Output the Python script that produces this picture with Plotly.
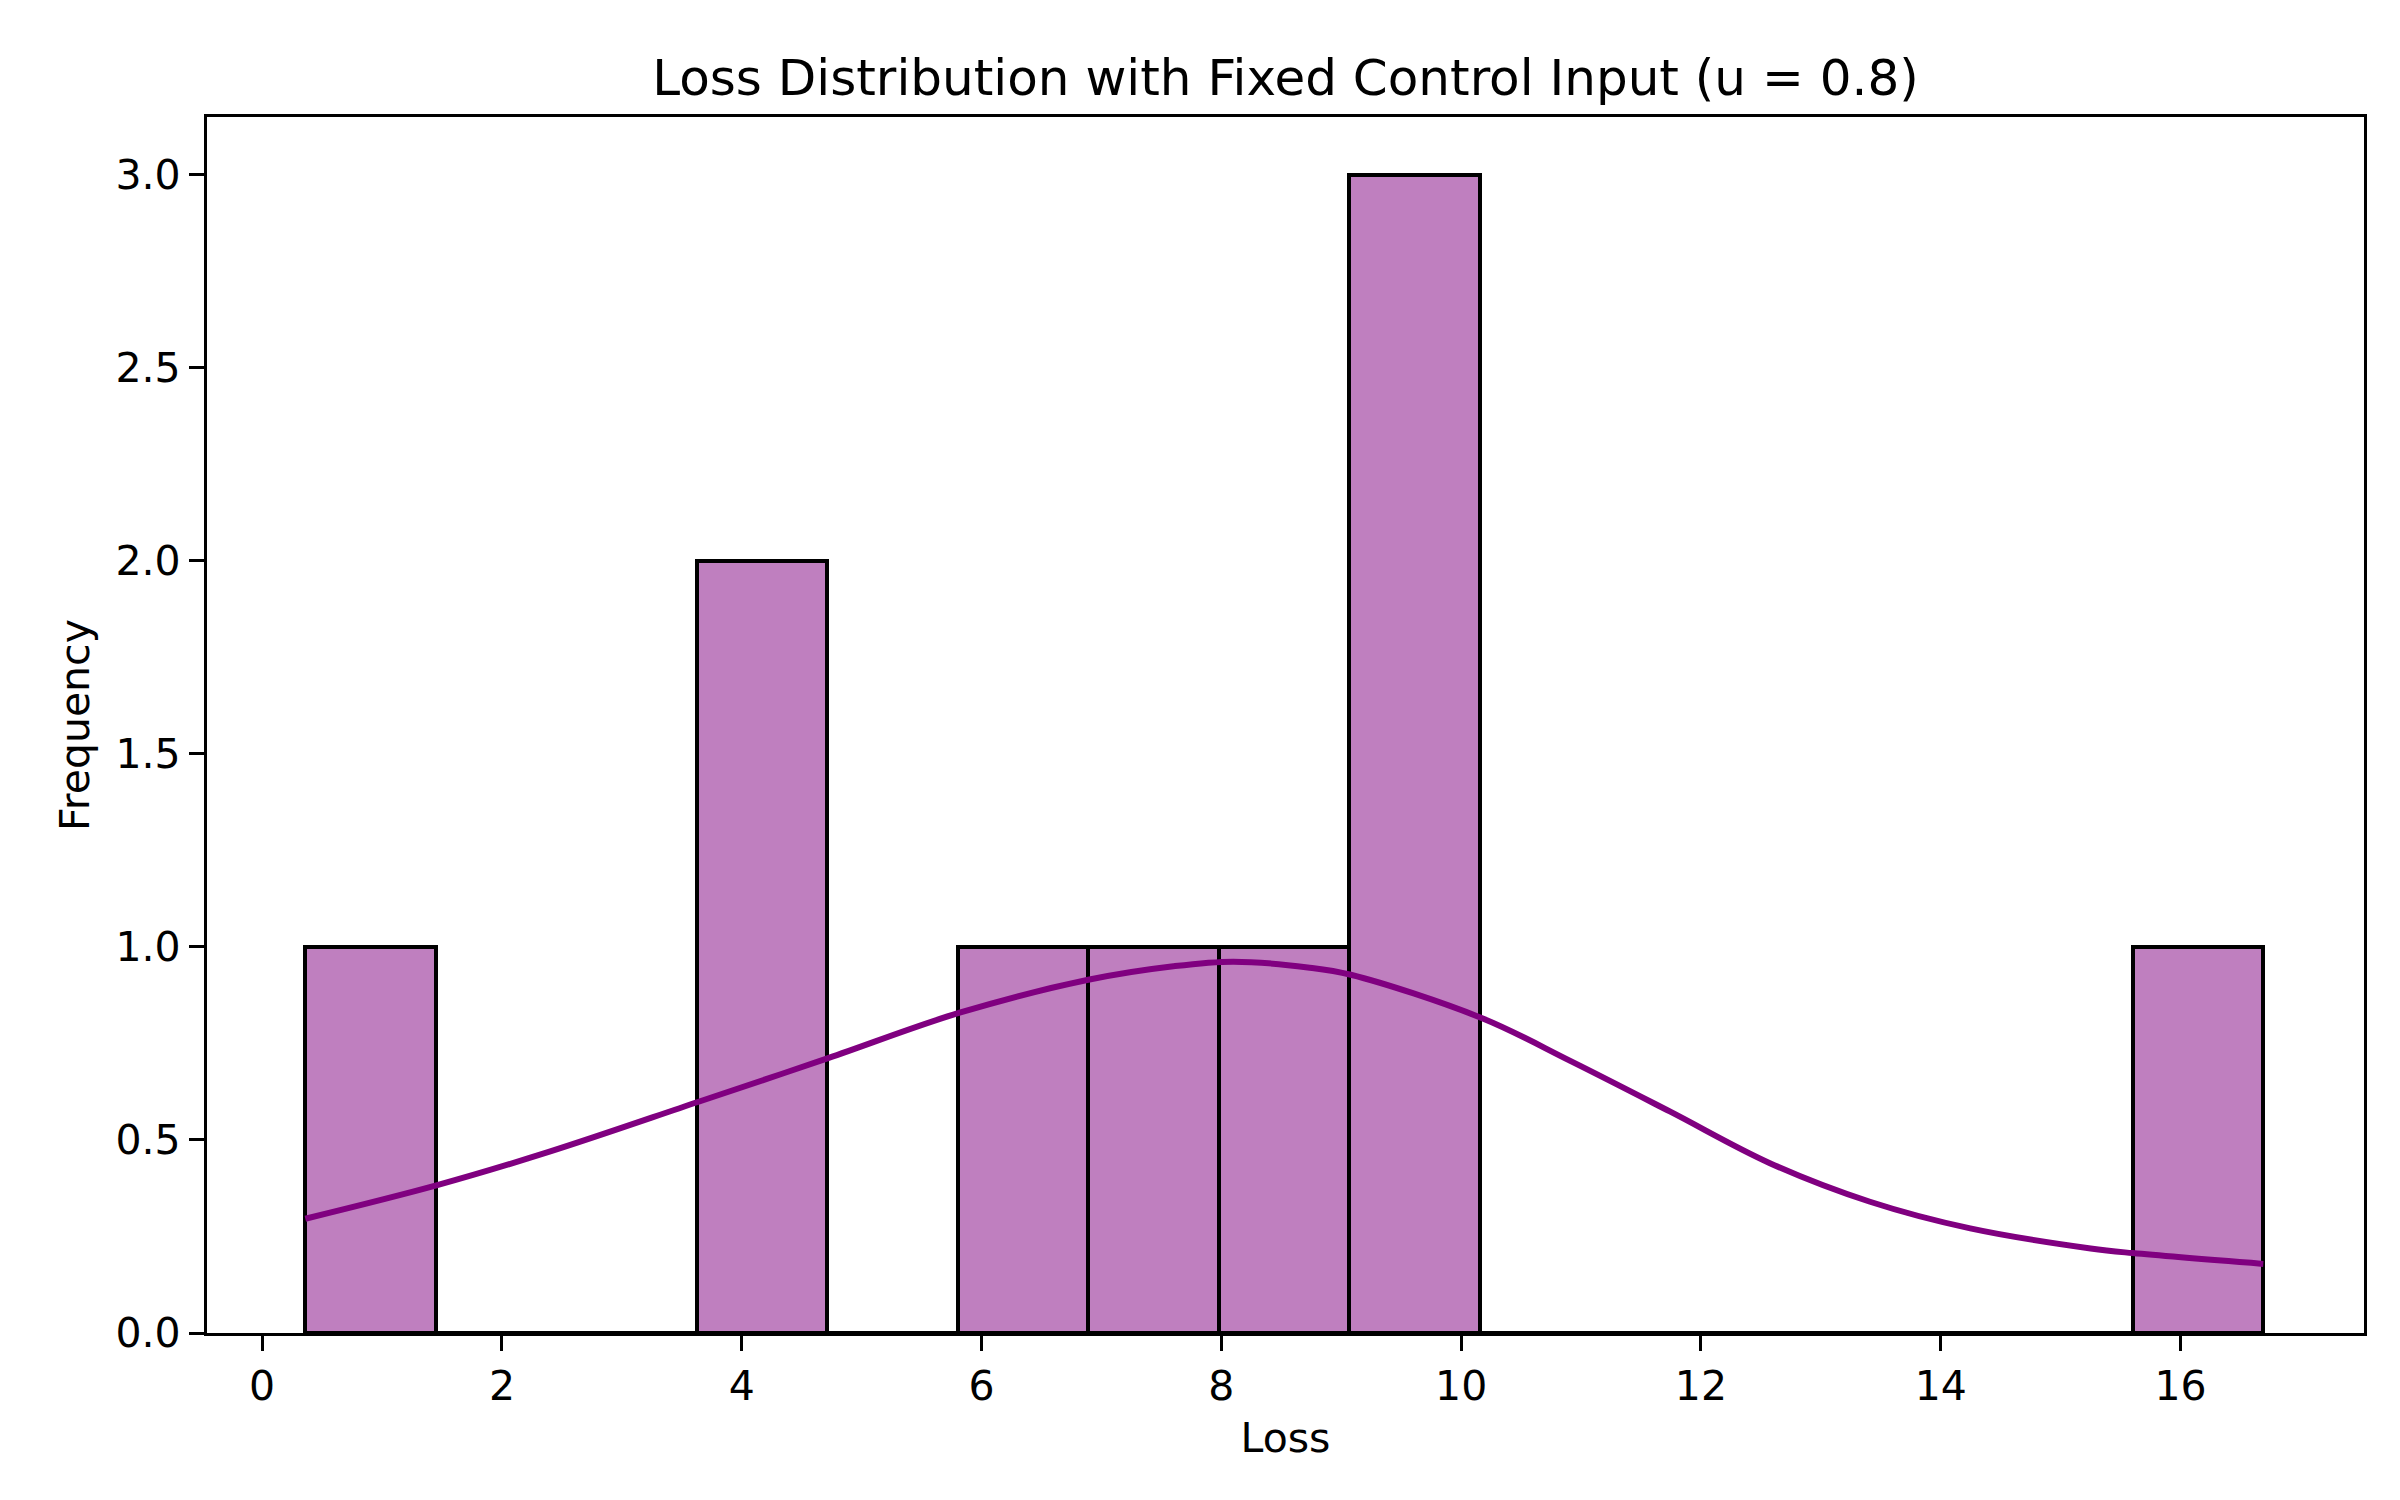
import plotly.graph_objects as go

# histogram bins (15 bins between min and max loss)
bin_start = 0.357
bin_end = 16.69
bin_counts = [1, 0, 0, 2, 0, 1, 1, 1, 3, 0, 0, 0, 0, 0, 1]

# kde curve (scaled to counts)
kde_x = [0.36, 1.46, 2.39, 3.64, 4.72, 5.81, 6.89, 7.6, 8.1, 8.72, 9.08, 10.17,
         10.91, 11.74, 12.575, 13.41, 14.246, 15.25, 15.6, 16.69]
kde_y = [0.296, 0.383, 0.469, 0.599, 0.712, 0.829, 0.915, 0.950, 0.962, 0.947,
         0.928, 0.816, 0.705, 0.574, 0.440, 0.340, 0.271, 0.219, 0.207, 0.179]

x_ticks = [0, 2, 4, 6, 8, 10, 12, 14, 16]
y_ticks = [0.0, 0.5, 1.0, 1.5, 2.0, 2.5, 3.0]

bin_width = (bin_end - bin_start) / len(bin_counts)
bin_centers = [bin_start + bin_width * (i + 0.5) for i in range(len(bin_counts))]

fig = go.Figure()

fig.add_trace(go.Bar(
    x=bin_centers, y=bin_counts, width=bin_width,
    marker=dict(color='#BF7FBF', line=dict(color='black', width=4)),
    showlegend=False
))

fig.add_trace(go.Scatter(
    x=kde_x, y=kde_y, mode='lines',
    line=dict(color='#800080', width=6, shape='spline', smoothing=1.0),
    showlegend=False
))

font = 'DejaVu Sans'
fig.update_layout(
    width=2400, height=1500,
    paper_bgcolor='white', plot_bgcolor='white',
    margin=dict(l=199, r=44, t=109, b=175),
    font=dict(family=font, size=41, color='black'),
    title=dict(text='Loss Distribution with Fixed Control Input (u = 0.8)',
               x=0.5, xref='paper', xanchor='center',
               y=1 - 69 / 1500, yref='container', yanchor='middle',
               font=dict(family=font, size=50, color='black')),
    bargap=0,
)

fig.update_xaxes(
    range=[-0.46, 17.53], tickvals=x_ticks, ticktext=[str(t) for t in x_ticks],
    showgrid=False, zeroline=False,
    showline=True, linecolor='black', linewidth=3.3, mirror=True,
    ticks='outside', ticklen=15, tickwidth=3.3, tickcolor='black',
    tickfont=dict(size=41),
    title=dict(text='Loss', font=dict(size=41), standoff=14),
)
fig.update_yaxes(
    range=[0, 3.15], tickvals=y_ticks, ticktext=['%.1f' % t for t in y_ticks],
    showgrid=False, zeroline=False,
    showline=True, linecolor='black', linewidth=3.3, mirror=True,
    ticks='outside', ticklen=15, tickwidth=3.3, tickcolor='black',
    tickfont=dict(size=41),
    title=dict(text='Frequency', font=dict(size=41), standoff=14),
)

fig.write_html('out.html')
